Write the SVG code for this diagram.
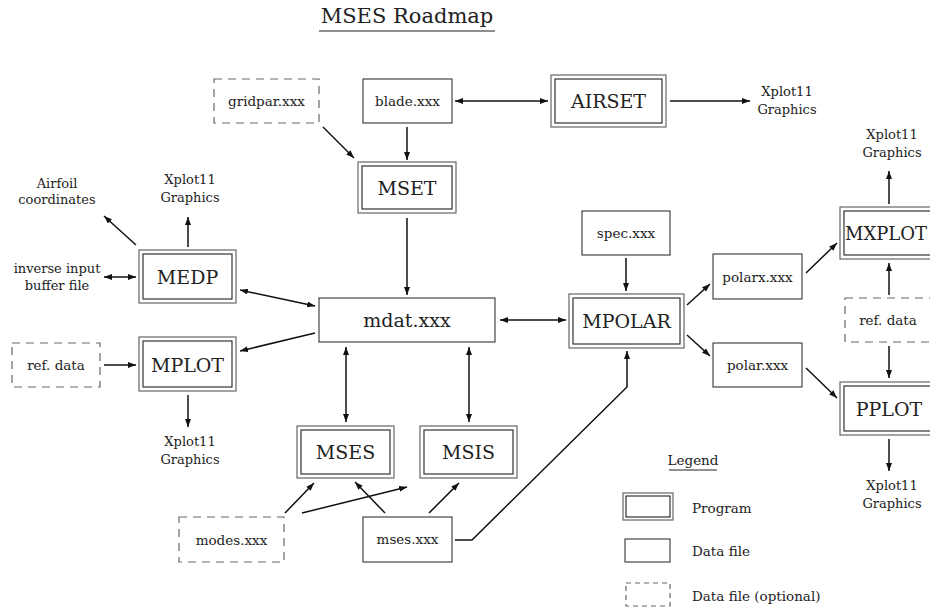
<svg xmlns="http://www.w3.org/2000/svg" width="930" height="611" viewBox="0 0 930 611">
<defs>
<style>
text{font-family:'DejaVu Serif','Liberation Serif',serif;fill:#222;text-anchor:middle}
.prog{font-size:19px}
.data{font-size:13.5px}
.big{font-size:19px}
.note{font-size:13px}
.outer{fill:none;stroke:#666;stroke-width:1.2}
.inner{fill:none;stroke:#333;stroke-width:1.2}
.df{fill:#fff;stroke:#333;stroke-width:1.1}
.opt{fill:#fff;stroke:#666;stroke-width:1.2;stroke-dasharray:8 6}
.c{fill:none;stroke:#111;stroke-width:1.5}
.a{marker-end:url(#ah)}
.b{marker-start:url(#ah);marker-end:url(#ah)}
</style>
<marker id="ah" viewBox="0 0 8 6" refX="8" refY="3" markerWidth="8" markerHeight="6" markerUnits="userSpaceOnUse" orient="auto-start-reverse">
<path d="M0,0 L8,3 L0,6 z" fill="#111"/>
</marker>
</defs>
<rect width="930" height="611" fill="#fff"/>
<g id="title">
<text x="407" y="23" style="font-size:21px">MSES Roadmap</text>
<line x1="319" y1="31" x2="495" y2="31" stroke="#222" stroke-width="1"/>
</g>

<g id="gridpar"><rect class="opt" x="214" y="79" width="105" height="44"/><text class="data" x="266.5" y="106">gridpar.xxx</text></g>
<g id="blade"><rect class="df" x="363" y="79" width="89" height="44"/><text class="data" x="407.5" y="106">blade.xxx</text></g>
<g id="airset"><rect class="outer" x="551" y="75" width="115" height="52"/><rect class="inner" x="555" y="79" width="107" height="44"/><text class="prog" x="608.5" y="108">AIRSET</text></g>
<g id="xplot-airset"><text class="note" x="787" y="96">Xplot11</text><text class="note" x="787" y="114">Graphics</text></g>
<g id="mset"><rect class="outer" x="358" y="162" width="98" height="51"/><rect class="inner" x="362" y="166" width="90" height="43"/><text class="prog" x="407" y="195">MSET</text></g>
<g id="mdat"><rect class="df" x="319" y="298" width="176" height="44"/><text class="big" x="407" y="327">mdat.xxx</text></g>
<g id="spec"><rect class="df" x="582" y="211" width="88" height="44"/><text class="data" x="626" y="238">spec.xxx</text></g>
<g id="mpolar"><rect class="outer" x="569" y="294" width="115" height="54"/><rect class="inner" x="573" y="298" width="107" height="46"/><text class="prog" x="626.5" y="328">MPOLAR</text></g>
<g id="mses"><rect class="outer" x="297" y="426" width="97" height="52"/><rect class="inner" x="301" y="430" width="89" height="44"/><text class="prog" x="345.5" y="459">MSES</text></g>
<g id="msis"><rect class="outer" x="420" y="426" width="97" height="52"/><rect class="inner" x="424" y="430" width="89" height="44"/><text class="prog" x="468.5" y="459">MSIS</text></g>
<g id="modes"><rect class="opt" x="179" y="517" width="105" height="45"/><text class="data" x="231.5" y="545">modes.xxx</text></g>
<g id="msesfile"><rect class="df" x="363" y="517" width="89" height="45"/><text class="data" x="407.5" y="544">mses.xxx</text></g>

<g id="airfoil"><text class="note" x="57" y="188">Airfoil</text><text class="note" x="57" y="204">coordinates</text></g>
<g id="xplot-medp"><text class="note" x="190" y="184">Xplot11</text><text class="note" x="190" y="202">Graphics</text></g>
<g id="inverse"><text class="note" x="57" y="273">inverse input</text><text class="note" x="57" y="290">buffer file</text></g>
<g id="medp"><rect class="outer" x="139" y="250" width="97" height="53"/><rect class="inner" x="143" y="254" width="89" height="45"/><text class="prog" x="187.5" y="284">MEDP</text></g>
<g id="refdata-left"><rect class="opt" x="12" y="343" width="88" height="44"/><text class="data" x="56" y="370">ref. data</text></g>
<g id="mplot"><rect class="outer" x="139" y="337" width="97" height="54"/><rect class="inner" x="143" y="341" width="89" height="46"/><text class="prog" x="187.5" y="372">MPLOT</text></g>
<g id="xplot-mplot"><text class="note" x="190" y="446">Xplot11</text><text class="note" x="190" y="464">Graphics</text></g>

<g id="polarx"><rect class="df" x="713" y="254" width="89" height="45"/><text class="data" x="757.5" y="282">polarx.xxx</text></g>
<g id="polar"><rect class="df" x="713" y="343" width="89" height="44"/><text class="data" x="757.5" y="370">polar.xxx</text></g>
<g id="xplot-mxplot"><text class="note" x="892" y="139">Xplot11</text><text class="note" x="892" y="157">Graphics</text></g>
<g id="mxplot"><rect class="outer" x="840" y="207" width="97" height="52"/><rect class="inner" x="844" y="211" width="89" height="44"/><text class="prog" x="886" y="240" style="font-size:18px">MXPLOT</text></g>
<g id="refdata-right"><rect class="opt" x="845" y="298" width="90" height="44"/><text class="data" x="888" y="325">ref. data</text></g>
<g id="pplot"><rect class="outer" x="840" y="382" width="97" height="53"/><rect class="inner" x="844" y="386" width="89" height="45"/><text class="prog" x="889" y="416">PPLOT</text></g>
<g id="xplot-pplot"><text class="note" x="892" y="490">Xplot11</text><text class="note" x="892" y="508">Graphics</text></g>

<g id="legend">
<text class="data" x="693" y="465">Legend</text>
<line x1="669" y1="470" x2="717" y2="470" stroke="#222" stroke-width="1"/>
<rect class="outer" x="623" y="493" width="50" height="27"/><rect class="inner" x="626" y="496" width="44" height="21"/>
<text class="data" x="692" y="513" style="text-anchor:start">Program</text>
<rect class="df" x="625" y="539" width="45" height="23"/>
<text class="data" x="692" y="556" style="text-anchor:start">Data file</text>
<rect class="opt" x="626" y="583" width="44" height="23" style="stroke-dasharray:5 4"/>
<text class="data" x="692" y="601" style="text-anchor:start">Data file (optional)</text>
</g>
<g id="connectors">
<line class="c b" x1="455" y1="101" x2="548" y2="101"/>
<line class="c a" x1="670" y1="101" x2="750" y2="101"/>
<line class="c a" x1="407" y1="127" x2="407" y2="160"/>
<line class="c a" x1="323" y1="127" x2="354" y2="158"/>
<line class="c a" x1="407" y1="218" x2="407" y2="295"/>
<line class="c b" x1="500" y1="320" x2="566" y2="320"/>
<line class="c a" x1="626" y1="258" x2="626" y2="291"/>
<line class="c b" x1="346" y1="347" x2="346" y2="422"/>
<line class="c b" x1="469" y1="347" x2="469" y2="422"/>
<line class="c a" x1="285" y1="513" x2="314" y2="483"/>
<line class="c a" x1="302" y1="513" x2="407" y2="487"/>
<line class="c a" x1="385" y1="513" x2="355" y2="482"/>
<line class="c a" x1="429" y1="513" x2="459" y2="483"/>
<polyline class="c a" points="455,540 472,540 627,387 627,351"/>
<line class="c a" x1="136" y1="245" x2="104" y2="216"/>
<line class="c a" x1="188" y1="247" x2="188" y2="217"/>
<line class="c b" x1="104" y1="277" x2="136" y2="277"/>
<line class="c a" x1="104" y1="365" x2="136" y2="365"/>
<line class="c b" x1="240" y1="290" x2="315" y2="306"/>
<line class="c a" x1="315" y1="333" x2="240" y2="351"/>
<line class="c a" x1="188" y1="395" x2="188" y2="427"/>
<line class="c a" x1="687" y1="305" x2="710" y2="284"/>
<line class="c a" x1="687" y1="335" x2="710" y2="356"/>
<line class="c a" x1="806" y1="273" x2="837" y2="243"/>
<line class="c a" x1="806" y1="368" x2="837" y2="398"/>
<line class="c a" x1="889" y1="295" x2="889" y2="263"/>
<line class="c a" x1="889" y1="346" x2="889" y2="378"/>
<line class="c a" x1="889" y1="204" x2="889" y2="171"/>
<line class="c a" x1="889" y1="439" x2="889" y2="471"/>
</g>
</svg>
